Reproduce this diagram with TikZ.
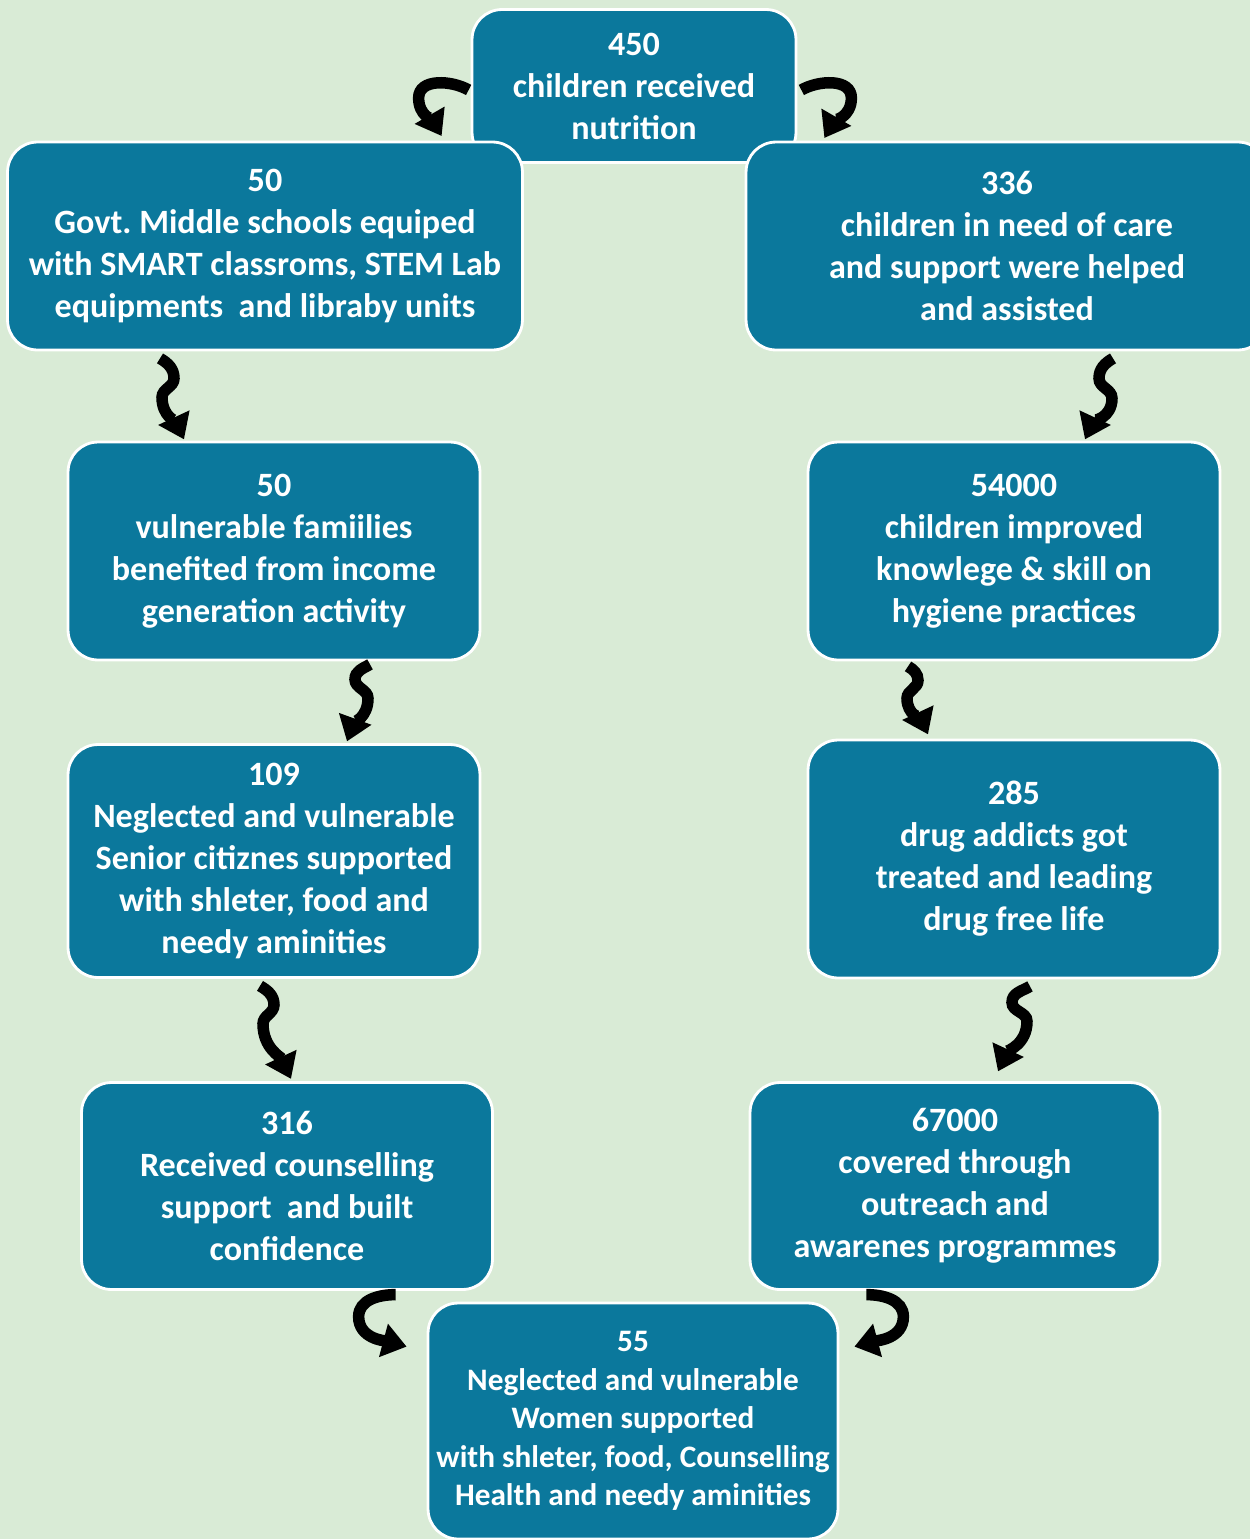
\documentclass[tikz,border=0pt]{standalone}
\usepackage{fontspec}
\setmainfont{Carlito}
\usepackage{xcolor}
\usetikzlibrary{arrows.meta,calc}

\definecolor{bggreen}{HTML}{D9EBD6}
\definecolor{boxteal}{HTML}{0B789C}
\frenchspacing

\begin{document}
\begin{tikzpicture}[x=0.02cm,y=0.02cm,
    box/.style={rectangle,rounded corners=0.6cm,fill=boxteal,draw=white,line width=1.6pt,
        text=white,align=center,inner sep=0pt,font=\bfseries\fontsize{19.4}{23.9}\selectfont},
    wavy/.style={draw=black,line width=0.23cm,-{Triangle[length=0.48cm,width=0.66cm]}}]
    \clip (0,0) rectangle (1250,-1539);
    \fill[bggreen] (0,0) rectangle (1250,-1539);

    \node[box,minimum width=6.48cm,minimum height=3.06cm] (t) at (634,-86) {450\\children received\\nutrition};
    \node[box,minimum width=10.3cm,minimum height=4.16cm] (l1) at (265,-246) {50\\Govt. Middle schools equiped\\with SMART classroms, STEM Lab\\equipments\ \ and libraby units};
    \node[box,minimum width=10.44cm,minimum height=4.16cm] (r1) at (1007,-246) {336\\children in need of care\\and support were helped\\and assisted};
    \node[box,minimum width=8.24cm,minimum height=4.36cm] (l2) at (274,-551) {50\\vulnerable famiilies\\benefited from income\\generation activity};
    \node[box,minimum width=8.24cm,minimum height=4.36cm] (r2) at (1014,-551) {54000\\children improved\\knowlege \& skill on\\hygiene practices};
    \node[box,minimum width=8.24cm,minimum height=4.66cm] (l3) at (274,-861) {109\\Neglected and vulnerable\\Senior citiznes supported\\with shleter, food and\\needy aminities};
    \node[box,minimum width=8.24cm,minimum height=4.76cm] (r3) at (1014,-859) {285\\drug addicts got\\treated and leading\\drug free life};
    \node[box,minimum width=8.22cm,minimum height=4.14cm] (l4) at (287,-1186) {316\\Received counselling\\support\ \ and built\\confidence};
    \node[box,minimum width=8.2cm,minimum height=4.14cm] (r4) at (955,-1186) {67000\\covered through\\outreach and\\awarenes programmes};
    \node[box,minimum width=8.2cm,minimum height=4.72cm,font=\bfseries\fontsize{17.8}{21.9}\selectfont] (b) at (633,-1421) {55\\Neglected and vulnerable\\Women supported\\with shleter, food, Counselling\\Health and needy aminities};

    % top arrows
    \draw[wavy] ($(t.west)+(-2,-4)$) to[out=150,in=90] ++(-50,-8) to[out=-90,in=120] ++(23,-38);
    \draw[wavy] ($(t.east)+(4,-4)$) to[out=30,in=90] ++(50,-8) to[out=-90,in=60] ++(-27,-40);

    % left column
    \draw[wavy] ($(l1.south)+(-105,-7)$) to[out=-30,in=90] ++(14,-20) to[out=-90,in=90] ++(-12,-19) to[out=-90,in=115] ++(22,-42);
    \draw[wavy] ($(l2.south)+(96,-3)$) to[out=-150,in=90] ++(-15,-15) to[out=-90,in=90] ++(13,-19) to[out=-90,in=70] ++(-21,-43);
    \draw[wavy] ($(l3.south)+(-14,-7)$) to[out=-30,in=90] ++(14,-19) to[out=-90,in=90] ++(-11,-19) to[out=-90,in=115] ++(28,-55);

    % right column
    \draw[wavy] ($(r1.south)+(106,-7)$) to[out=-150,in=90] ++(-14,-20) to[out=-90,in=90] ++(13,-20) to[out=-90,in=65] ++(-27,-41);
    \draw[wavy] ($(r2.south)+(-106,-5)$) to[out=-30,in=90] ++(10,-14) to[out=-90,in=90] ++(-11,-18) to[out=-90,in=115] ++(21,-36);
    \draw[wavy] ($(r3.south)+(16,-7)$) to[out=-150,in=90] ++(-18,-16) to[out=-90,in=90] ++(15,-19) to[out=-90,in=65] ++(-29,-50);

    % bottom arrows
    \draw[wavy] ($(b.north west)+(-31,7)$) to[out=180,in=90] ++(-37,-22) to[out=-90,in=165] ++(48,-30);
    \draw[wavy] ($(b.north east)+(27,7)$) to[out=0,in=90] ++(37,-22) to[out=-90,in=15] ++(-49,-30);
\end{tikzpicture}
\end{document}
